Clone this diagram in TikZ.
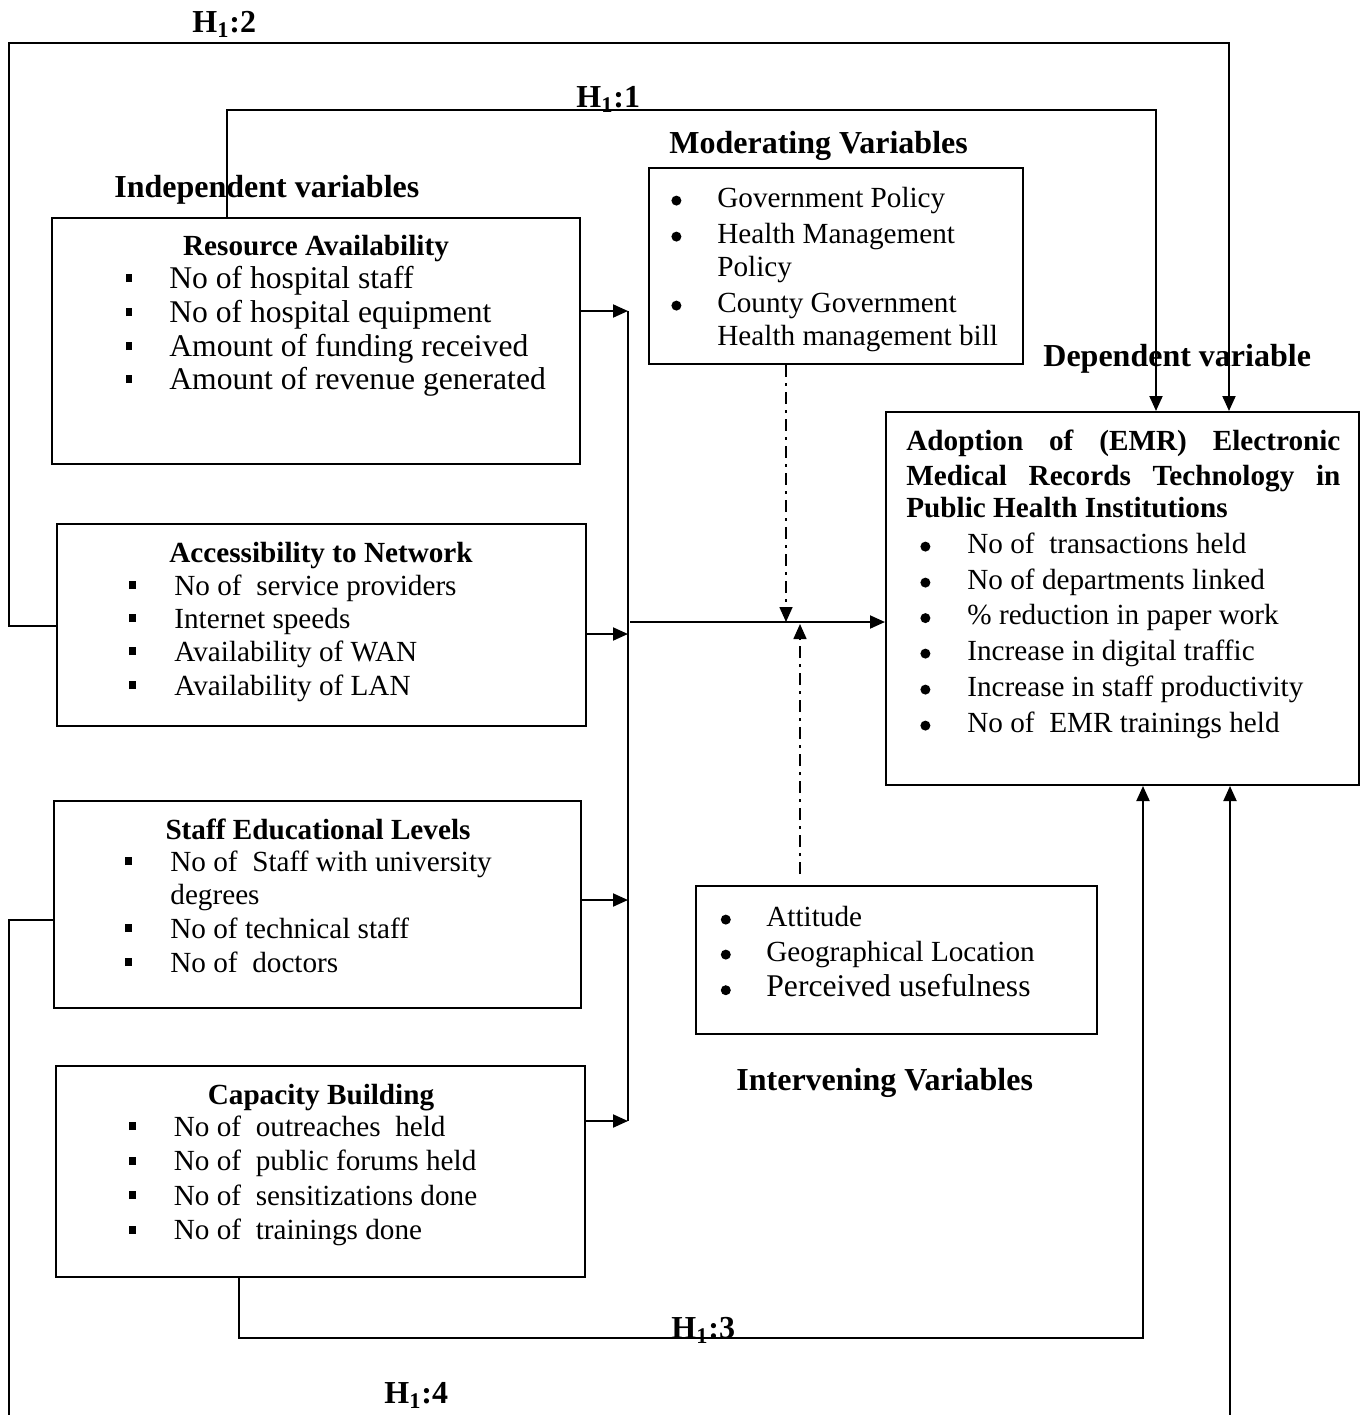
\documentclass[tikz,border=0pt]{standalone}
\usepackage{fontspec}
\setmainfont{Liberation Serif}
\usetikzlibrary{arrows.meta,fit}
\newcommand{\sqb}[1][20.5pt]{\llap{\makebox[0pt]{\rule[3pt]{3.4pt}{3.8pt}}\hspace{#1}}}
\newcommand{\rdb}[1][20.5pt]{\llap{\makebox[0pt]{\tikz[baseline=0pt]\fill (0,3.2pt) circle (2.5pt);}\hspace{#1}}}
\newcommand{\Hlab}[1]{H\textsubscript{1}:#1}
\begin{document}
\begin{tikzpicture}[x=0.5pt,y=-0.5pt,
  box/.style={draw,line width=1pt,inner sep=0pt},
  conn/.style={line width=1pt},
  arr/.style={conn,-{Triangle[length=7.5pt,width=6.5pt]}},
  dd/.style={line width=0.8pt,dash pattern=on 6pt off 3pt on 1.5pt off 3pt,-{Triangle[length=7.5pt,width=6.5pt]}},
  txt/.style={anchor=base west,inner sep=0pt,font=\fontsize{14.6}{17}\selectfont},
  big/.style={txt,font=\fontsize{15.8}{17}\selectfont},
  ttl/.style={anchor=base,inner sep=0pt,font=\bfseries\fontsize{14.6}{17}\selectfont},
  hdr/.style={anchor=base west,inner sep=0pt,font=\bfseries\fontsize{16}{19}\selectfont},
]
\path[use as bounding box] (0,0) rectangle (1360,1415);
\fill[white] (0,0) rectangle (1360,1415);
\clip (0,0) rectangle (1360,1415);

% boxes
\node[box,fit={(52,218)(580,464)}] (ra) {};
\node[box,fit={(57,524)(586,726)}] (an) {};
\node[box,fit={(54,801)(581,1008)}] (se) {};
\node[box,fit={(56,1066)(585,1277)}] (cb) {};
\node[box,fit={(649,168)(1023,364)}] (mod) {};
\node[box,fit={(886,412)(1358.5,785)}] (emr) {};
\node[box,fit={(696,886)(1097,1034)}] (iv) {};

% headers
\node[hdr] (lh2) at (192,32) {\Hlab{2}};
\node[hdr] (lh1) at (576,107) {\Hlab{1}};
\node[hdr] (lind) at (114,197) {Independent variables};
\node[hdr] (lmod) at (669,153) {Moderating Variables};
\node[hdr] (ldep) at (1043,366) {Dependent variable};
\node[hdr] (liv) at (736,1090) {Intervening Variables};
\node[hdr] (lh3) at (671,1338) {\Hlab{3}};
\node[hdr] (lh4) at (384,1403) {\Hlab{4}};

% resource availability
\node[ttl] (rat) at (316,255) {Resource Availability};
\node[big] (ra1) at (169,288) {\sqb[20.25pt]No of hospital staff};
\node[big] (ra2) at (169,322) {\sqb[20.25pt]No of hospital equipment};
\node[big] (ra3) at (169,356) {\sqb[20.25pt]Amount of funding received};
\node[big] (ra4) at (169,389) {\sqb[20.25pt]Amount of revenue generated};

% accessibility
\node[ttl] (ant) at (321,562) {Accessibility to Network};
\node[txt] (an1) at (174,595) {\sqb[21pt]No of\ \ service providers};
\node[txt] (an2) at (174,628) {\sqb[21pt]Internet speeds};
\node[txt] (an3) at (174,661) {\sqb[21pt]Availability of WAN};
\node[txt] (an4) at (174,695) {\sqb[21pt]Availability of LAN};

% staff
\node[ttl] (set) at (318,839) {Staff Educational Levels};
\node[txt] (se1) at (170,871) {\sqb[21pt]No of\ \ Staff with university};
\node[txt] (se2) at (170,904) {degrees};
\node[txt] (se3) at (170,938) {\sqb[21pt]No of technical staff};
\node[txt] (se4) at (170,972) {\sqb[21pt]No of\ \ doctors};

% capacity
\node[ttl] (cbt) at (321,1104) {Capacity Building};
\node[txt] (cb1) at (173.5,1136) {\sqb[20.75pt]No of\ \ outreaches\ \ held};
\node[txt] (cb2) at (173.5,1170.5) {\sqb[20.75pt]No of\ \ public forums held};
\node[txt] (cb3) at (173.5,1205) {\sqb[20.75pt]No of\ \ sensitizations done};
\node[txt] (cb4) at (173.5,1239.5) {\sqb[20.75pt]No of\ \ trainings done};

% moderating
\node[txt] (mo1) at (717,207) {\rdb Government Policy};
\node[txt] (mo2) at (717,243) {\rdb Health Management};
\node[txt] (mo3) at (717,276) {Policy};
\node[txt] (mo4) at (717,312) {\rdb County Government};
\node[txt] (mo5) at (717,345.5) {Health management bill};

% EMR
\node[txt,font=\bfseries\fontsize{14.6}{17}\selectfont] (et1) at (906,450) {\makebox[217pt][s]{Adoption of (EMR) Electronic}};
\node[txt,font=\bfseries\fontsize{14.6}{17}\selectfont] (et2) at (906,485) {\makebox[217pt][s]{Medical Records Technology in}};
\node[txt,font=\bfseries\fontsize{14.6}{17}\selectfont] (et3) at (906,517) {Public Health Institutions};
\node[txt] (e1) at (967,553) {\rdb[21pt]No of\ \ transactions held};
\node[txt] (e2) at (967,589) {\rdb[21pt]No of departments linked};
\node[txt] (e3) at (967,624.5) {\rdb[21pt]\% reduction in paper work};
\node[txt] (e4) at (967,660) {\rdb[21pt]Increase in digital traffic};
\node[txt] (e5) at (967,696) {\rdb[21pt]Increase in staff productivity};
\node[txt] (e6) at (967,732) {\rdb[21pt]No of\ \ EMR trainings held};

% intervening
\node[txt] (iv1) at (766,926) {\rdb[20.3pt]Attitude};
\node[txt] (iv2) at (766,961) {\rdb[20.3pt]Geographical Location};
\node[big] (iv3) at (766,996.6) {\rdb[20.3pt]Perceived usefulness};

% junction coordinates
\coordinate (busT) at (628,311);
\coordinate (busA) at (628,634);
\coordinate (busS) at (628,900);
\coordinate (busB) at (628,1121);
\coordinate (mj) at (630,622);
\coordinate (mdj) at (786,622);
\coordinate (ivj) at (800,624);
\coordinate (h1a) at (227,110);
\coordinate (h1b) at (1156,110);
\coordinate (h2a) at (9,626);
\coordinate (h2b) at (9,43);
\coordinate (h2c) at (1229,43);
\coordinate (h3a) at (239,1338);
\coordinate (h3b) at (1143,1338);
\coordinate (h4a) at (9,920);
\coordinate (h4b) at (9,1440);
\coordinate (h4c) at (1230,1440);

% connectors
\draw[arr] (ra.east |- busT) -- (busT);
\draw[arr] (an.east |- busA) -- (busA);
\draw[arr] (se.east |- busS) -- (busS);
\draw[arr] (cb.east |- busB) -- (busB);
\draw[conn] (busT) -- (busB);
\draw[arr] (mj) -- (emr.west |- mj);
\draw[dd] (mod.south -| mdj) -- (mdj);
\draw[dd,shorten <=5.5pt] (iv.north -| ivj) -- (ivj);
\draw[arr] (ra.north -| h1a) -- (h1a) -- (h1b) -- (emr.north -| h1b);
\draw[arr] (an.west |- h2a) -- (h2a) -- (h2b) -- (h2c) -- (emr.north -| h2c);
\draw[arr] (cb.south -| h3a) -- (h3a) -- (h3b) -- (emr.south -| h3b);
\draw[arr] (se.west |- h4a) -- (h4a) -- (h4b) -- (h4c) -- (emr.south -| h4c);
\end{tikzpicture}
\end{document}
